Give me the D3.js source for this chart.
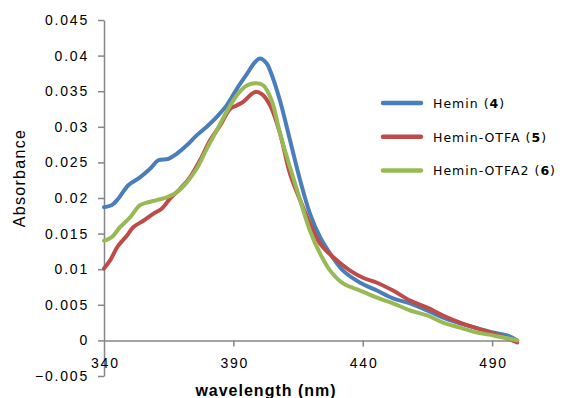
<!DOCTYPE html>
<html lang="en">
<head>
    <meta charset="UTF-8">
    <title>Absorbance</title>
    <script src="https://d3js.org/d3.v7.min.js"></script>
    <style>
        body { margin: 0; background: #fff; }
    </style>
</head>
<body>
    <div id="chart"></div>
    <script>
        // series data: [wavelength (nm), absorbance]
        const hemin = [
            [340, 0.0187], [343, 0.0190], [345.5, 0.0199], [349.4, 0.0218], [353.9, 0.0229],
            [357.8, 0.0241], [361, 0.0253], [364.9, 0.0255], [368.1, 0.0262], [372, 0.0274],
            [375.8, 0.0288], [379.7, 0.0300], [383.6, 0.0314], [387.4, 0.0330], [391.3, 0.0353],
            [395.2, 0.0374], [398.4, 0.0391], [400.3, 0.0396], [402.9, 0.0389], [404.2, 0.0379],
            [408, 0.0337], [411.9, 0.0281], [415.8, 0.0225], [419.6, 0.0178], [423.5, 0.0145],
            [427.4, 0.0122], [432.4, 0.0098], [439, 0.0081], [445.5, 0.0070], [451.7, 0.0059],
            [458.3, 0.0052], [464.9, 0.0042], [471, 0.0032], [477.6, 0.0024], [484.2, 0.0017],
            [490.4, 0.0011], [495.8, 0.0007], [499.7, 0.0000]
        ];
        const heminOtfa = [
            [340, 0.0101], [342.3, 0.0112], [345.5, 0.0133], [348.8, 0.0147], [351.3, 0.0159],
            [355.2, 0.0168], [359.1, 0.0178], [362.3, 0.0185], [365.5, 0.0199], [369.4, 0.0213],
            [373.2, 0.0229], [377.1, 0.0253], [381, 0.0281], [384.9, 0.0302], [388.7, 0.0325],
            [391.3, 0.0330], [393.8, 0.0335], [396.4, 0.0344], [398.4, 0.0349], [401, 0.0346],
            [404.2, 0.0330], [408, 0.0291], [411.9, 0.0234], [415.8, 0.0197], [419.6, 0.0164],
            [423.5, 0.0136], [428.5, 0.0117], [435.1, 0.0098], [440.1, 0.0088], [445.5, 0.0081],
            [451.7, 0.0070], [458.3, 0.0056], [464.9, 0.0046], [471, 0.0035], [477.6, 0.0025],
            [484.2, 0.0017], [490.4, 0.0010], [495.8, 0.0003], [499.7, -0.0003]
        ];
        const heminOtfa2 = [
            [340, 0.0140], [343, 0.0145], [346.2, 0.0159], [350.1, 0.0173], [353.9, 0.0190],
            [357.1, 0.0194], [360.4, 0.0197], [364.2, 0.0201], [368.1, 0.0208], [372, 0.0222],
            [375.8, 0.0241], [379.7, 0.0269], [383.6, 0.0295], [387.4, 0.0321], [391.3, 0.0344],
            [395.2, 0.0358], [399, 0.0361], [401.6, 0.0358], [404.8, 0.0337], [408, 0.0291],
            [411.9, 0.0243], [415.8, 0.0197], [419.6, 0.0154], [423.5, 0.0122], [427.4, 0.0098],
            [432.4, 0.0080], [439, 0.0070], [445.5, 0.0060], [451.7, 0.0052], [458.3, 0.0042],
            [464.9, 0.0035], [471, 0.0025], [477.6, 0.0018], [484.2, 0.0011], [490.4, 0.0007],
            [495.8, 0.0003], [499.7, 0.0000]
        ];

        const seriesNames = ["Hemin", "Hemin-OTFA", "Hemin-OTFA2"];
        const seriesNumbers = ["4", "5", "6"];
        const seriesColors = ["#4a7ebb", "#be4b48", "#98b954"];
        const allSeries = [hemin, heminOtfa, heminOtfa2];

        const xTicks = [340, 390, 440, 490];
        const yTicks = [-0.005, 0, 0.005, 0.01, 0.015, 0.02, 0.025, 0.03, 0.035, 0.04, 0.045];

        const svg = d3.select("#chart")
            .append("svg")
            .attr("width", 563)
            .attr("height", 398)
            .style("font-family", "Liberation Sans, Arial, sans-serif");

        const x_axis = d3.scaleLinear()
            .domain([340, 500])
            .range([104, 518]);

        const y_axis = d3.scaleLinear()
            .domain([-0.005, 0.045])
            .range([376, 20]);

        const axisColor = "#868686";

        const line = d3.line()
            .x(d => x_axis(d[0]))
            .y(d => y_axis(d[1]))
            .curve(d3.curveCatmullRom);

        // y axis
        const gy = svg.append("g")
            .attr("transform", "translate(104, 0)")
            .call(d3.axisLeft(y_axis)
                .tickValues(yTicks)
                .tickSize(6)
                .tickSizeOuter(0)
                .tickPadding(9)
                .tickFormat(d => d3.format("")(+d.toFixed(3))));

        // x axis, crossing at 0
        const gx = svg.append("g")
            .attr("transform", "translate(0, " + y_axis(0) + ")")
            .call(d3.axisBottom(x_axis)
                .tickValues(xTicks)
                .tickSize(6)
                .tickSizeOuter(0)
                .tickPadding(12));

        [gx, gy].forEach(g => {
            g.select(".domain").attr("stroke", axisColor).attr("stroke-width", 1.5);
            g.selectAll(".tick line").attr("stroke", axisColor).attr("stroke-width", 1.5);
            g.selectAll(".tick text")
                .attr("font-family", null)
                .attr("font-size", "14px")
                .attr("letter-spacing", "1.8px")
                .attr("fill", "#000");
        });
        gx.selectAll(".tick line").filter(d => d === 340).remove();
        gx.selectAll(".tick text").attr("dx", "0.9px");

        const plot = svg.append("g");
        allSeries.forEach((s, i) => {
            plot.append("path")
                .datum(s)
                .attr("fill", "none")
                .attr("stroke", seriesColors[i])
                .attr("stroke-width", 4)
                .attr("stroke-linejoin", "round")
                .attr("stroke-linecap", "round")
                .attr("d", line);
        });

        // axis titles
        svg.append("text")
            .attr("transform", "translate(25, 178) rotate(-90)")
            .attr("text-anchor", "middle")
            .attr("font-size", "16px")
            .attr("letter-spacing", "1.3px")
            .text("Absorbance");

        svg.append("text")
            .attr("x", 266)
            .attr("y", 396)
            .attr("text-anchor", "middle")
            .attr("font-size", "16px")
            .attr("font-weight", "bold")
            .attr("letter-spacing", "1px")
            .text("wavelength (nm)");

        // legend
        const legend = svg.append("g")
            .style("font-family", "DejaVu Sans, sans-serif");
        seriesNames.forEach((name, i) => {
            const ly = 103 + 33.7 * i;
            legend.append("line")
                .attr("x1", 383)
                .attr("x2", 421)
                .attr("y1", ly)
                .attr("y2", ly)
                .attr("stroke", seriesColors[i])
                .attr("stroke-width", 4.5)
                .attr("stroke-linecap", "round");
            const t = legend.append("text")
                .attr("x", 433)
                .attr("y", ly + 5)
                .attr("font-size", "12.5px")
                .attr("letter-spacing", "1px");
            t.append("tspan").text(name + " (");
            t.append("tspan").attr("font-weight", "bold").text(seriesNumbers[i]);
            t.append("tspan").text(")");
        });
    </script>
</body>
</html>
